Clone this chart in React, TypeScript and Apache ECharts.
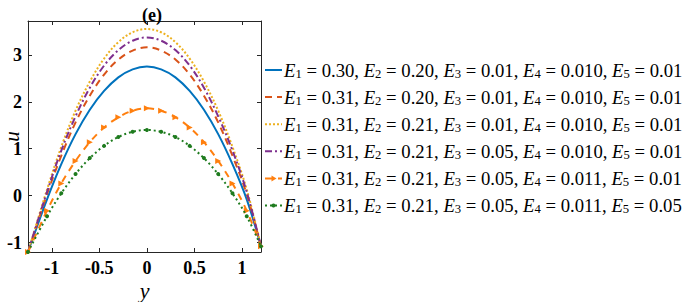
import React, { useEffect, useRef } from "react";
import * as echarts from "echarts";

const xs = [-1.25, -1.05, -0.9, -0.75, -0.6, -0.45, -0.3, -0.15, 0, 0.15, 0.3, 0.45, 0.6, 0.75, 0.9, 1.05, 1.2];
const uBlue = [-1.2, -0.08, 0.67, 1.31, 1.83, 2.23, 2.52, 2.69, 2.75, 2.69, 2.52, 2.23, 1.83, 1.31, 0.67, -0.08, -1.08];
const uOrangeDash = [-1.2, 0.03, 0.85, 1.56, 2.13, 2.58, 2.9, 3.09, 3.16, 3.09, 2.9, 2.58, 2.13, 1.56, 0.85, 0.03, -1.08];
const uYellow = [-1.2, 0.13, 1.04, 1.81, 2.43, 2.92, 3.27, 3.48, 3.55, 3.48, 3.27, 2.92, 2.43, 1.81, 1.04, 0.13, -1.08];
const uPurple = [-1.2, 0.08, 0.96, 1.69, 2.3, 2.77, 3.1, 3.3, 3.37, 3.3, 3.1, 2.77, 2.3, 1.69, 0.96, 0.08, -1.08];
const uOrangeArrow = [-1.2, -0.32, 0.26, 0.74, 1.14, 1.45, 1.67, 1.81, 1.86, 1.81, 1.67, 1.45, 1.14, 0.74, 0.26, -0.32, -1.08];
const uGreen = [-1.2, -0.44, 0.05, 0.46, 0.8, 1.06, 1.25, 1.36, 1.4, 1.36, 1.25, 1.06, 0.8, 0.46, 0.05, -0.44, -1.08];

const E1 = ["0.30", "0.31", "0.31", "0.31", "0.31", "0.31"];
const E2 = ["0.20", "0.20", "0.21", "0.21", "0.21", "0.21"];
const E3 = ["0.01", "0.01", "0.01", "0.05", "0.05", "0.05"];
const E4 = ["0.010", "0.010", "0.010", "0.010", "0.011", "0.011"];
const E5 = ["0.01", "0.01", "0.01", "0.01", "0.01", "0.05"];

const xTicks = [-1, -0.5, 0, 0.5, 1];
const yTicks = [-1, 0, 1, 2, 3];

const seriesValues = [uBlue, uOrangeDash, uYellow, uPurple, uOrangeArrow, uGreen];
const colors = ["#0072BD", "#D95319", "#EDB120", "#7E2F8E", "#FF7F0E", "#1E7B1E"];
const dashes: any[] = ["solid", [7, 5], [2, 2], [7, 3, 2, 3], [7, 6], [2, 3]];
const symbols = ["none", "none", "none", "none", "triangle", "circle"];

const names = E1.map((_, i) => `s${i}`);
const SERIF = "'Liberation Serif', 'Times New Roman', serif";

function legendText(i: number) {
  const vals = [E1[i], E2[i], E3[i], E4[i], E5[i]];
  return vals
    .map((v, k) => `{e|E}{s|${k + 1}}{t| = ${v}${k < 4 ? ", " : ""}}`)
    .join("");
}

function buildLegend() {
  const els: any[] = [];
  const x0 = 265;
  const x1 = 282;
  names.forEach((_, i) => {
    const cy = 70 + 27.1 * i;
    els.push({
      type: "line",
      shape: { x1: x0, y1: cy, x2: x1, y2: cy },
      style: { stroke: colors[i], lineWidth: 2, lineDash: dashes[i] === "solid" ? null : dashes[i] },
    });
    if (symbols[i] === "triangle") {
      const mx = (x0 + x1) / 2;
      els.push({
        type: "polygon",
        shape: { points: [[mx - 2, cy - 3], [mx + 3, cy], [mx - 2, cy + 3]] },
        style: { fill: colors[i] },
      });
    } else if (symbols[i] === "circle") {
      els.push({
        type: "circle",
        shape: { cx: (x0 + x1) / 2, cy, r: 2 },
        style: { fill: colors[i] },
      });
    }
    els.push({
      type: "text",
      x: 284,
      y: cy,
      style: {
        text: legendText(i),
        verticalAlign: "middle",
        align: "left",
        fill: "#000",
        rich: {
          e: { fontFamily: SERIF, fontStyle: "italic", fontSize: 18.7, lineHeight: 20, fill: "#000" },
          s: { fontFamily: SERIF, fontSize: 12.7, lineHeight: 12, verticalAlign: "bottom", fill: "#000" },
          t: { fontFamily: SERIF, fontSize: 18.7, lineHeight: 20, fill: "#000" },
        },
      },
    });
  });
  return els;
}

export default function App() {
  const ref = useRef<HTMLDivElement>(null);
  useEffect(() => {
    if (!ref.current) return;
    const chart = echarts.init(ref.current, null, { renderer: "svg" });
    const axisBase = {
      type: "value",
      axisLine: { show: true, onZero: false, lineStyle: { color: "#262626", width: 1 } },
      splitLine: { show: false },
    };
    chart.setOption({
      animation: false,
      backgroundColor: "#fff",
      title: {
        text: "(e)",
        left: 147,
        top: 1,
        textAlign: "center",
        textStyle: { fontFamily: SERIF, fontWeight: "bold", fontSize: 18, color: "#000" },
      },
      grid: { left: 28, top: 21, width: 233, height: 231, containLabel: false, outerBoundsMode: "none" },
      xAxis: [
        {
          ...axisBase,
          position: "bottom",
          min: -1.25,
          max: 1.2,
          axisTick: { show: true, inside: true, length: 4, customValues: xTicks, lineStyle: { color: "#262626" } },
          axisLabel: {
            customValues: xTicks,
            margin: 7,
            fontFamily: SERIF,
            fontWeight: "bold",
            fontSize: 18,
            color: "#000",
          },
          name: "y",
          nameLocation: "middle",
          nameGap: 27,
          nameMoveOverlap: false,
          nameTextStyle: { fontFamily: SERIF, fontStyle: "italic", fontSize: 22, color: "#000" },
        },
        {
          ...axisBase,
          position: "top",
          min: -1.25,
          max: 1.2,
          axisTick: { show: true, inside: true, length: 4, customValues: xTicks, lineStyle: { color: "#262626" } },
          axisLabel: { show: false },
        },
      ],
      yAxis: [
        {
          ...axisBase,
          position: "left",
          min: -1.2,
          max: 3.72,
          axisTick: { show: true, inside: true, length: 4, customValues: yTicks, lineStyle: { color: "#262626" } },
          axisLabel: {
            customValues: yTicks,
            margin: 6,
            fontFamily: SERIF,
            fontWeight: "bold",
            fontSize: 18,
            color: "#000",
          },
          name: "u",
          nameLocation: "middle",
          nameGap: 9,
          nameRotate: 90,
          nameMoveOverlap: false,
          nameTextStyle: { fontFamily: SERIF, fontStyle: "italic", fontSize: 21, lineHeight: 14, color: "#000" },
        },
        {
          ...axisBase,
          position: "right",
          min: -1.2,
          max: 3.72,
          axisTick: { show: true, inside: true, length: 4, customValues: yTicks, lineStyle: { color: "#262626" } },
          axisLabel: { show: false },
        },
      ],
      graphic: buildLegend(),
      series: seriesValues.map((vals, i) => ({
        name: names[i],
        type: "line",
        xAxisIndex: 0,
        yAxisIndex: 0,
        smooth: 0.35,
        data: xs.map((x, k) => [x, vals[k]]),
        symbol: symbols[i],
        symbolSize: symbols[i] === "circle" ? 4 : 6,
        symbolRotate: symbols[i] === "triangle" ? -90 : 0,
        showSymbol: symbols[i] !== "none",
        itemStyle: { color: colors[i], borderWidth: 0 },
        lineStyle: { color: colors[i], width: 2, type: dashes[i] },
        clip: false,
        z: 2 + i,
      })),
    });
    return () => chart.dispose();
  }, []);
  return <div ref={ref} style={{ position: "absolute", left: 0, top: 0, width: 685, height: 302 }} />;
}
